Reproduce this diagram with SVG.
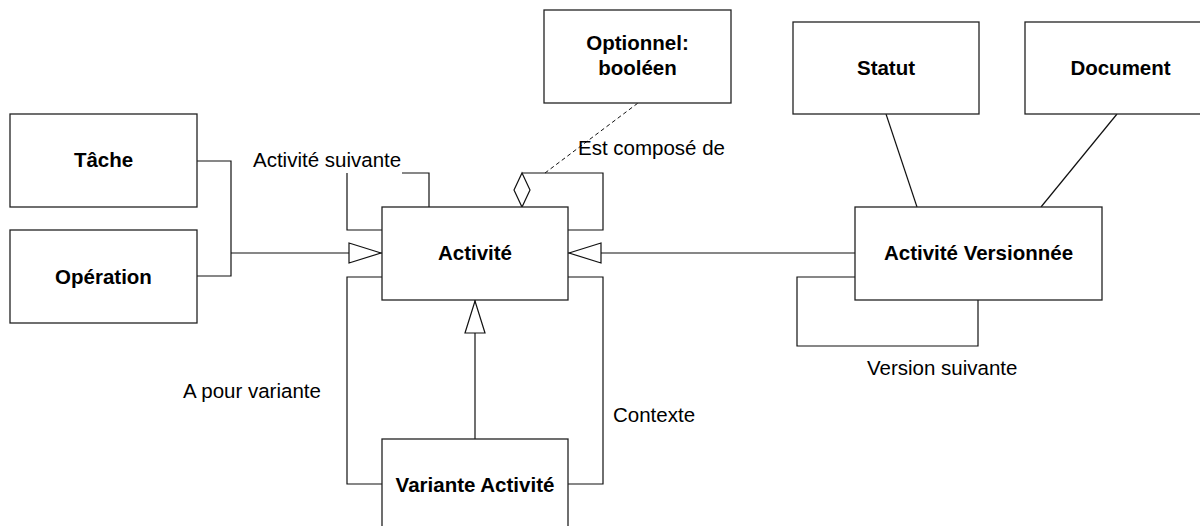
<svg xmlns="http://www.w3.org/2000/svg" width="1200" height="526" viewBox="0 0 1200 526">
<style>
.box{fill:#fff;stroke:#222;stroke-width:1.3}
.lbl{font-family:"Liberation Sans",Arial,sans-serif;font-size:20.5px;font-weight:bold;fill:#000;text-anchor:middle}
.txt{font-family:"Liberation Sans",Arial,sans-serif;font-size:20.5px;fill:#000}
.ln{fill:none;stroke:#111;stroke-width:1.2}
.dash{fill:none;stroke:#111;stroke-width:1;stroke-dasharray:4,3}
.dia{fill:#fff;stroke:#111;stroke-width:1.2}
</style>
<defs>
<marker id="gen" viewBox="0 0 34 22" refX="34" refY="11" markerWidth="34" markerHeight="22" markerUnits="userSpaceOnUse" orient="auto">
<path d="M1,1 L33,11 L1,21 Z" fill="#fff" stroke="#111" stroke-width="1.2"/>
</marker>
</defs>
<rect width="1200" height="526" fill="#fff"/>
<g id="connectors">
<path class="ln" d="M197,161 H231 V276 H197"/>
<path class="ln" d="M231,253 H382" marker-end="url(#gen)"/>
<path class="ln" d="M855,253 H568" marker-end="url(#gen)"/>
<path class="ln" d="M475,439 V300" marker-end="url(#gen)"/>
<path class="ln" d="M382,230 H347 V173 M402,173 H429 V207"/>
<path class="ln" d="M522,173 H603 V230 H568"/>
<polygon class="dia" points="522,173 530,190 522,207 514,190"/>
<path class="dash" d="M545,173 L638,103"/>
<path class="ln" d="M382,277 H347 V484 H382"/>
<path class="ln" d="M568,277 H603 V484 H568"/>
<path class="ln" d="M855,277 H797 V346 H978 V300"/>
<path class="ln" d="M886,114 L917,207"/>
<path class="ln" d="M1117,114 L1041,207"/>
<text class="txt" x="253" y="167">Activité suivante</text>
<text class="txt" x="578" y="155">Est composé de</text>
<text class="txt" x="183" y="398">A pour variante</text>
<text class="txt" x="613" y="422">Contexte</text>
<text class="txt" x="867" y="375">Version suivante</text>
</g>
<g id="tache"><rect class="box" x="10" y="114" width="187" height="93"/><text class="lbl" x="103.5" y="167">Tâche</text></g>
<g id="operation"><rect class="box" x="10" y="230" width="187" height="93"/><text class="lbl" x="103.5" y="284">Opération</text></g>
<g id="activite"><rect class="box" x="382" y="207" width="186" height="93"/><text class="lbl" x="475" y="260">Activité</text></g>
<g id="optionnel"><rect class="box" x="544" y="10" width="187" height="93"/><text class="lbl" x="637.5" y="50">Optionnel:</text><text class="lbl" x="637.5" y="75">booléen</text></g>
<g id="statut"><rect class="box" x="793" y="22" width="186" height="92"/><text class="lbl" x="886" y="75">Statut</text></g>
<g id="document"><rect class="box" x="1025" y="22" width="191" height="92"/><text class="lbl" x="1120.5" y="75">Document</text></g>
<g id="activite-versionnee"><rect class="box" x="855" y="207" width="247" height="93"/><text class="lbl" x="978.5" y="260">Activité Versionnée</text></g>
<g id="variante-activite"><rect class="box" x="382" y="439" width="186" height="100"/><text class="lbl" x="475" y="492">Variante Activité</text></g>
</svg>
